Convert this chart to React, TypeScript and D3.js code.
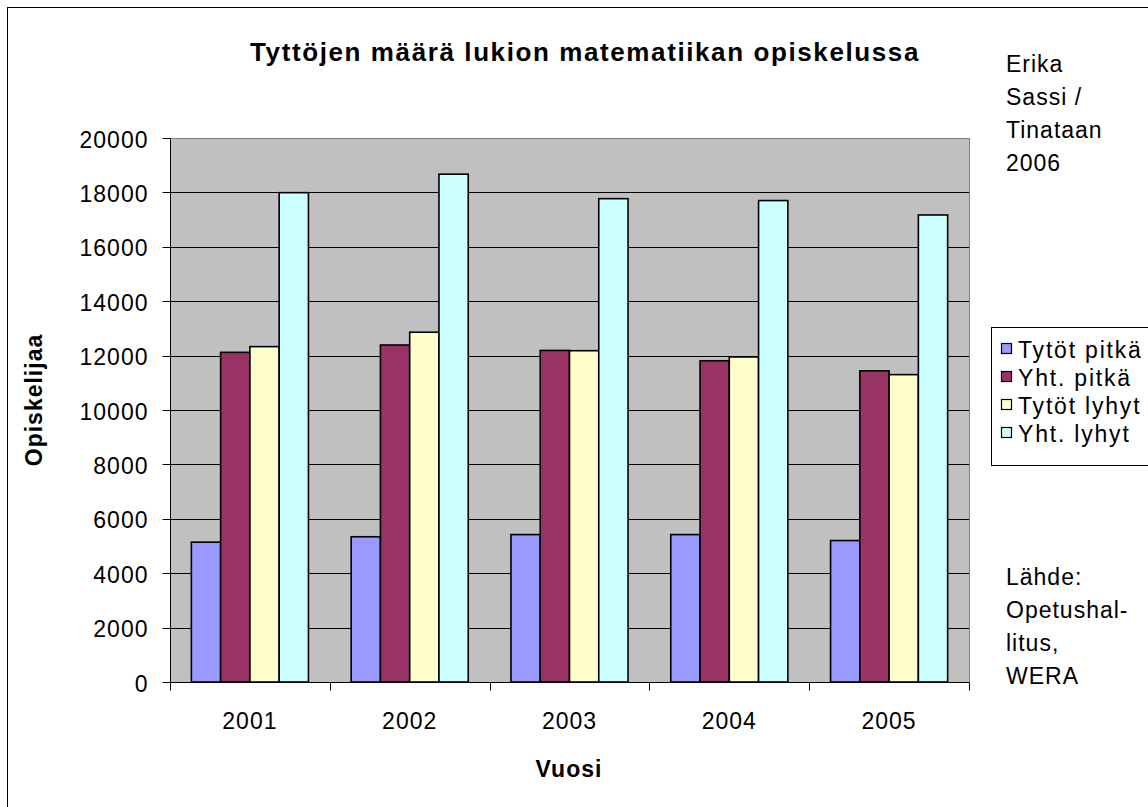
import { useEffect, useRef } from "react";
import * as d3 from "d3";

const years = ["2001", "2002", "2003", "2004", "2005"];
const seriesNames = ["Tytöt pitkä", "Yht. pitkä", "Tytöt lyhyt", "Yht. lyhyt"];
const tytotPitka = [5140, 5340, 5420, 5420, 5200];
const yhtPitka = [12120, 12390, 12190, 11810, 11440];
const tytotLyhyt = [12330, 12860, 12180, 11950, 11300];
const yhtLyhyt = [17990, 18670, 17770, 17700, 17170];
const seriesColors = ["#9999FF", "#993366", "#FFFFCC", "#CCFFFF"];
const yTicks = [0, 2000, 4000, 6000, 8000, 10000, 12000, 14000, 16000, 18000, 20000];
const creditLines = ["Erika", "Sassi /", "Tinataan", "2006"];
const sourceLines = ["Lähde:", "Opetushal-", "litus,", "WERA"];

const FONT = "Arial, 'Liberation Sans', Helvetica, sans-serif";

export default function App(): JSX.Element {
  const ref = useRef<SVGSVGElement | null>(null);

  useEffect(() => {
    if (!ref.current) return;
    const svg = d3.select(ref.current);
    svg.selectAll("*").remove();

    const plot = { left: 170, top: 138, right: 969, bottom: 682 };
    const series = [tytotPitka, yhtPitka, tytotLyhyt, yhtLyhyt];

    // outer chart frame, runs past the right and bottom edge
    svg
      .append("rect")
      .attr("x", 7.5)
      .attr("y", 7.5)
      .attr("width", 1200)
      .attr("height", 900)
      .attr("fill", "#fff")
      .attr("stroke", "#000")
      .attr("stroke-width", 1);

    const x0 = d3.scaleBand<string>().domain(years).range([plot.left, plot.right]).paddingInner(0).paddingOuter(0);
    const x1 = d3
      .scaleBand<number>()
      .domain(d3.range(series.length))
      .range([0, x0.bandwidth()])
      .paddingOuter(0.73)
      .paddingInner(0);
    const y = d3.scaleLinear().domain([0, 20000]).range([plot.bottom, plot.top]);

    svg
      .append("rect")
      .attr("x", plot.left)
      .attr("y", plot.top)
      .attr("width", plot.right - plot.left)
      .attr("height", plot.bottom - plot.top)
      .attr("fill", "#C0C0C0");

    svg
      .append("g")
      .selectAll("line")
      .data(yTicks.filter((t) => t > 0 && t < 20000))
      .join("line")
      .attr("x1", plot.left)
      .attr("x2", plot.right)
      .attr("y1", (d) => Math.round(y(d)) + 0.5)
      .attr("y2", (d) => Math.round(y(d)) + 0.5)
      .attr("stroke", "#000")
      .attr("stroke-width", 1);

    svg
      .append("rect")
      .attr("x", plot.left + 0.5)
      .attr("y", plot.top + 0.5)
      .attr("width", plot.right - plot.left)
      .attr("height", plot.bottom - plot.top)
      .attr("fill", "none")
      .attr("stroke", "#808080")
      .attr("stroke-width", 1);

    const groups = svg
      .append("g")
      .selectAll("g")
      .data(years)
      .join("g")
      .attr("transform", (d) => `translate(${x0(d)},0)`);

    groups
      .selectAll("rect")
      .data((_, i) => series.map((s, k) => ({ k, v: s[i] })))
      .join("rect")
      .attr("x", (d) => x1(d.k)!)
      .attr("y", (d) => y(d.v))
      .attr("width", x1.bandwidth())
      .attr("height", (d) => y(0) - y(d.v))
      .attr("fill", (d) => seriesColors[d.k])
      .attr("stroke", "#000")
      .attr("stroke-width", 1.6);

    // axes
    const yAxis = svg.append("g").attr("transform", `translate(${plot.left + 0.5},0)`);
    yAxis.append("line").attr("y1", plot.top).attr("y2", plot.bottom + 8).attr("stroke", "#000");
    yAxis
      .selectAll("line.tick")
      .data(yTicks)
      .join("line")
      .attr("class", "tick")
      .attr("x1", -8)
      .attr("x2", 0)
      .attr("y1", (d) => Math.round(y(d)) + 0.5)
      .attr("y2", (d) => Math.round(y(d)) + 0.5)
      .attr("stroke", "#000");
    yAxis
      .selectAll("text")
      .data(yTicks)
      .join("text")
      .attr("x", -22)
      .attr("y", (d) => y(d) + 9.5)
      .attr("text-anchor", "end")
      .attr("font-family", FONT)
      .attr("font-size", 23)
      .attr("letter-spacing", 1)
      .text((d) => String(d));

    const xAxis = svg.append("g").attr("transform", `translate(0,${plot.bottom + 0.5})`);
    xAxis.append("line").attr("x1", plot.left).attr("x2", plot.right).attr("stroke", "#000");
    xAxis
      .selectAll("line.tick")
      .data([...years.map((d) => x0(d)!), plot.right])
      .join("line")
      .attr("class", "tick")
      .attr("x1", (d) => Math.round(d) + 0.5)
      .attr("x2", (d) => Math.round(d) + 0.5)
      .attr("y1", 0)
      .attr("y2", 8)
      .attr("stroke", "#000");
    xAxis
      .selectAll("text")
      .data(years)
      .join("text")
      .attr("x", (d) => x0(d)! + x0.bandwidth() / 2)
      .attr("y", 46.5)
      .attr("text-anchor", "middle")
      .attr("font-family", FONT)
      .attr("font-size", 23)
      .attr("letter-spacing", 1)
      .text((d) => d);

    // titles
    svg
      .append("text")
      .attr("x", 585)
      .attr("y", 61)
      .attr("text-anchor", "middle")
      .attr("font-family", FONT)
      .attr("font-size", 26)
      .attr("font-weight", "bold")
      .attr("letter-spacing", 1.6)
      .text("Tyttöjen määrä lukion matematiikan opiskelussa");

    svg
      .append("text")
      .attr("x", 569)
      .attr("y", 777)
      .attr("text-anchor", "middle")
      .attr("font-family", FONT)
      .attr("font-size", 23)
      .attr("font-weight", "bold")
      .attr("letter-spacing", 1)
      .text("Vuosi");

    svg
      .append("text")
      .attr("transform", "translate(42,400) rotate(-90)")
      .attr("text-anchor", "middle")
      .attr("font-family", FONT)
      .attr("font-size", 23)
      .attr("font-weight", "bold")
      .attr("letter-spacing", 1)
      .text("Opiskelijaa");

    // legend
    const legend = svg.append("g").attr("transform", "translate(991,327)");
    legend
      .append("rect")
      .attr("x", 0.5)
      .attr("y", 0.5)
      .attr("width", 300)
      .attr("height", 138)
      .attr("fill", "#fff")
      .attr("stroke", "#000");
    const items = legend
      .selectAll("g")
      .data(seriesNames)
      .join("g")
      .attr("transform", (_, i) => `translate(0,${22 + i * 28})`);
    items
      .append("rect")
      .attr("x", 10.5)
      .attr("y", -5.5)
      .attr("width", 10)
      .attr("height", 10)
      .attr("fill", (_, i) => seriesColors[i])
      .attr("stroke", "#000")
      .attr("stroke-width", 1.2);
    items
      .append("text")
      .attr("x", 27)
      .attr("y", 8.5)
      .attr("font-family", FONT)
      .attr("font-size", 23)
      .attr("letter-spacing", 1.8)
      .text((d) => d);

    // side notes
    const notes = (lines: string[], top: number) =>
      svg
        .append("g")
        .selectAll("text")
        .data(lines)
        .join("text")
        .attr("x", 1006)
        .attr("y", (_, i) => top + i * 33)
        .attr("font-family", FONT)
        .attr("font-size", 23)
        .attr("letter-spacing", 1)
        .text((d) => d);
    notes(creditLines, 72);
    notes(sourceLines, 585);
  }, []);

  return (
    <svg
      ref={ref}
      width={1148}
      height={807}
      style={{ position: "absolute", left: 0, top: 0, display: "block" }}
    />
  );
}
